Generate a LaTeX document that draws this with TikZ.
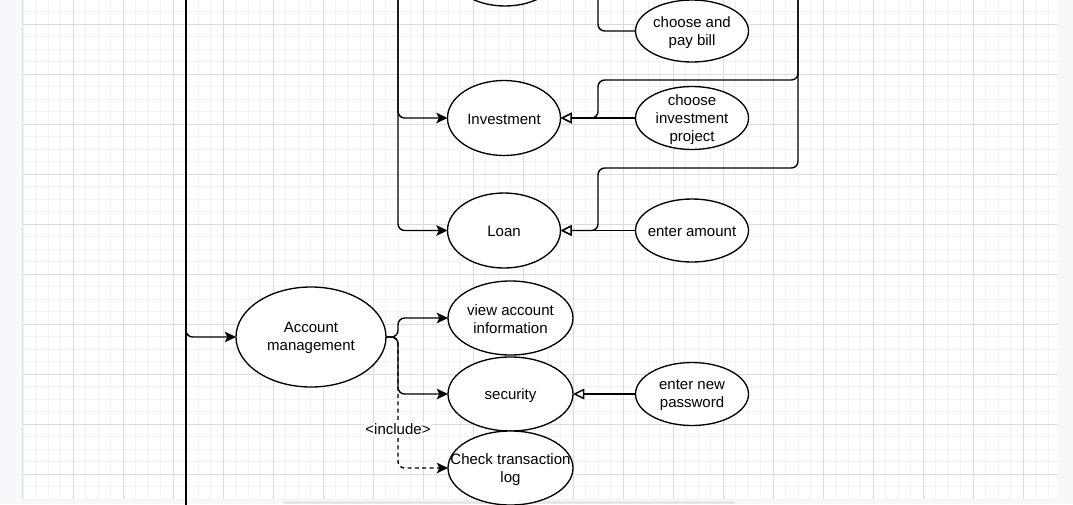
\documentclass[tikz,border=0pt]{standalone}
\usepackage{fontspec}
\setmainfont{Liberation Sans}
\usetikzlibrary{arrows.meta,shapes.geometric}
\definecolor{majorc}{HTML}{DCDCDC}
\definecolor{minorc}{HTML}{F3F3F3}
\definecolor{outerbg}{HTML}{F7F8FA}
\definecolor{scrollc}{HTML}{E6E7E9}
\tikzset{
  uc/.style={ellipse, draw, line width=1pt, fill=white, inner sep=0pt, outer sep=0pt},
  txt/.style={align=center, inner sep=0pt, yshift=-1pt, font=\fontsize{11.25pt}{13.5pt}\selectfont},
  edge/.style={line width=1.05pt, rounded corners=5pt},
  arr/.style={edge, -{Stealth[length=8.5pt,width=8pt,inset=2pt]}},
  gen/.style={edge, -{Triangle[open,length=8.5pt,width=8pt,fill=white]}},
  inc/.style={arr, dash pattern=on 3pt off 2.5pt},
  lbl/.style={fill=white, inner sep=1pt, font=\fontsize{11.25pt}{13.5pt}\selectfont},
  minorgrid/.style={draw=minorc, line width=0.6pt},
  majorgrid/.style={draw=majorc, line width=0.75pt},
}
\begin{document}
\begin{tikzpicture}[x=0.75pt, y=-0.75pt]
\useasboundingbox (0,0) rectangle (1073,504);
\begin{scope}
\clip (0,0) rectangle (1073,504);
% background
\fill[outerbg] (0,0) rectangle (1073,504);
\fill[white] (23,0) rectangle (1058,499);
\draw[majorc, line width=0.75pt] (22.5,0) -- (22.5,499);
\fill[scrollc] (283,500.5) rectangle (735,504);
% grid
\foreach \i in {0,...,82} { \draw[minorgrid] ({23+12.5*\i},0) -- ({23+12.5*\i},499); }
\foreach \i in {0,...,39} { \draw[minorgrid] (23,{11.5+12.5*\i}) -- (1058,{11.5+12.5*\i}); }
\foreach \i in {1,...,20} { \draw[majorgrid] ({23+50*\i},0) -- ({23+50*\i},499); }
\foreach \i in {0,...,9} { \draw[majorgrid] (23,{24+50*\i}) -- (1058,{24+50*\i}); }

% use-case ellipses
\node[uc, minimum width=84.75pt, minimum height=56.25pt] (topuc) at (505,-31.5) {};
\node[uc, minimum width=84.75pt, minimum height=46.5pt] (pay) at (692,31) {};
\node[uc, minimum width=84.75pt, minimum height=56.25pt] (inv) at (504,118) {};
\node[uc, minimum width=84.75pt, minimum height=47.25pt] (cip) at (692,118) {};
\node[uc, minimum width=84.75pt, minimum height=56.25pt] (loan) at (504,230.5) {};
\node[uc, minimum width=84.75pt, minimum height=47.25pt] (amt) at (692,230.5) {};
\node[uc, minimum width=112.5pt, minimum height=75pt] (acc) at (311,337) {};
\node[uc, minimum width=93.75pt, minimum height=55.5pt] (view) at (510.5,318) {};
\node[uc, minimum width=93.75pt, minimum height=55.5pt] (sec) at (510.5,394) {};
\node[uc, minimum width=93.75pt, minimum height=55.5pt] (log) at (510.5,468) {};
\node[uc, minimum width=84.75pt, minimum height=47.25pt] (pwd) at (692,394) {};

% texts
\node[txt] (paytxt) at (pay) {choose and\\pay bill};
\node[txt] (invtxt) at (inv) {Investment};
\node[txt] (ciptxt) at (cip) {choose\\investment\\project};
\node[txt] (loantxt) at (loan) {Loan};
\node[txt] (amttxt) at (amt) {enter amount};
\node[txt] (acctxt) at (acc) {Account\\management};
\node[txt] (viewtxt) at (view) {view account\\information};
\node[txt] (sectxt) at (sec) {security};
\node[txt] (logtxt) at (log) {Check transaction\\log};
\node[txt] (pwdtxt) at (pwd) {enter new\\password};

% free ends
\coordinate (actorTop) at (186,-20);
\coordinate (actorBot) at (186,530);
\coordinate (left2) at (186,300);
\coordinate (midTop) at (398,-20);
\coordinate (payTop) at (598,-20);
\coordinate (rightTop) at (798,-20);

% connectors
\draw[line width=1.05pt] (actorTop) -- (actorBot);
\draw[arr] (left2) |- (acc.west);
\draw[arr] (midTop) |- (inv.west);
\draw[arr] (midTop) |- (loan.west);
\draw[edge] (pay.west) -| (payTop);
\draw[gen] (rightTop) |- (598,80) |- (inv.east);
\draw[gen] (rightTop) |- (598,168) |- (loan.east);
\draw[gen] (cip.west) -- (inv.east);
\draw[gen] (amt.west) -- (loan.east);
\draw[arr] (acc.east) -- (398,337) |- (view.west);
\draw[arr] (acc.east) -- (398,337) |- (sec.west);
\draw[inc] (acc.east) -- (398,337) |- (log.west);
\draw[gen] (pwd.west) -- (sec.east);
\node[lbl] (inclbl) at (398,429) {<include>};
\end{scope}
\end{tikzpicture}
\end{document}
